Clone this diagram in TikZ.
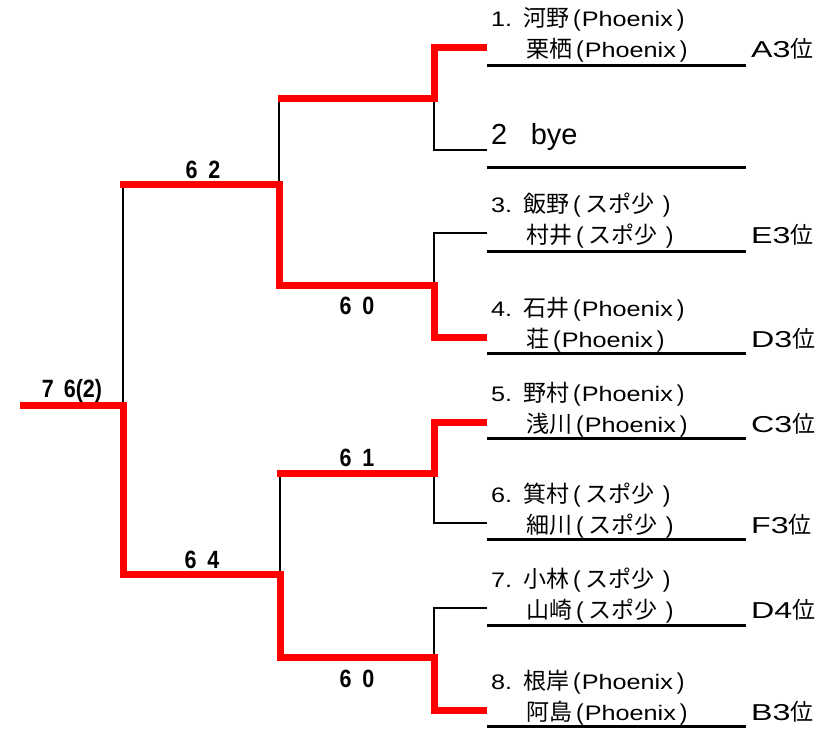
\documentclass[tikz,border=0pt]{standalone}
\usepackage{fontspec}
\setmainfont{Noto Sans CJK JP}
\newfontfamily\latf{Liberation Sans}
\newfontfamily\latw[FakeStretch=1.2]{Liberation Sans}
\newfontfamily\widef[FakeStretch=1.4]{Liberation Sans}
\newfontfamily\scoref[FakeStretch=0.86]{Liberation Sans}
\newcommand\lt{\latw\fontsize{21pt}{24pt}\selectfont}
\newcommand\lp{\latf\fontsize{23pt}{24pt}\selectfont}
\newcommand\PX{\hspace{4pt}{\lp(}\hspace{1pt}{\lt Phoenix}\hspace{4pt}{\lp)}}
\newcommand\SP{\hspace{4pt}{\lp(}\hspace{5pt}スポ少\hspace{8pt}{\lp)}}
\tikzset{
  nm/.style={anchor=base west, inner sep=0pt, font=\fontsize{23pt}{26pt}\selectfont},
  rk/.style={anchor=base west, inner sep=0pt, font=\fontsize{23pt}{26pt}\selectfont},
  sc/.style={anchor=base, inner sep=0pt, font=\scoref\bfseries\fontsize{25pt}{28pt}\selectfont},
  win/.style={draw=red, line width=7pt, line join=miter},
  lose/.style={draw=black, line width=2.5pt, line join=miter},
  ul/.style={draw=black, line width=3pt}
}
\begin{document}
\begin{tikzpicture}[x=1pt, y=-1pt]
\useasboundingbox[fill=white] (0,0) rectangle (832,728);
% entries
\foreach \i/\s/\u/\a/\b/\t/\r in {1/47/65/河野/栗栖/\PX/A3, 3/233/251/飯野/村井/\SP/E3, 4/337/353/石井/荘/\PX/D3, 5/422/438/野村/浅川/\PX/C3, 6/523/539/箕村/細川/\SP/F3, 7/608/625/小林/山崎/\SP/D4, 8/710/726/根岸/阿島/\PX/B3}{
  \coordinate (e\i) at (487,\s);
  \coordinate (ul\i) at (487,\u);
  \coordinate (ur\i) at (746,\u);
  \draw[ul] (ul\i) -- (ur\i);
  \node[nm] (n\i-1) at (491,\s-20.3) {{\lt\i.}\hspace{11pt}\a\t};
  \node[nm] (n\i-2) at (526,\s+10.2) {\b\t};
  \node[rk] (r\i) at (751,\s+10) {{\widef\r}位};
}
\coordinate (e2) at (487,150);
\coordinate (ul2) at (487,167);
\coordinate (ur2) at (746,167);
\draw[ul] (ul2) -- (ur2);
\node[anchor=base west, inner sep=0pt, font=\latf\fontsize{29pt}{32pt}\selectfont] (n2) at (491,144.4) {2\hspace{23.5pt}bye};
% junctions
\coordinate (a1) at (434,98);
\coordinate (a2) at (434,285);
\coordinate (a3) at (434,473);
\coordinate (a4) at (434,657);
\coordinate (b1) at (279,184);
\coordinate (b2) at (280,574);
\coordinate (f) at (123,405);
\coordinate (s0) at (20,405);
% losing lines
\draw[lose] (e2) -| (a1);
\draw[lose] (e3) -| (a2);
\draw[lose] (e6) -| (a3);
\draw[lose] (e7) -| (a4);
\draw[lose] (a1 -| b1) -- (b1);
\draw[lose] (a3 -| b2) -- (b2);
\draw[lose] (b1 -| f) -- (f);
% winning lines
\draw[win] (e1) -| (a1) -- (a1 -| b1) -- ++(-1.5,0);
\draw[win] (e4) -| (a2) -- (a2 -| b1) -- (b1) -- (b1 -| f) -- ++(-3.5,0);
\draw[win] (e5) -| (a3) -- (a3 -| b2) -- ++(-3.5,0);
\draw[win] (s0) -- (f) -- (f |- b2) -- (b2) -- (b2 |- a4) -- (a4) -- (a4 |- e8) -- (e8);
% scores
\node[sc] (s62) at (203,178) {6\hspace{11pt}2};
\node[sc] (s60a) at (357,314) {6\hspace{11pt}0};
\node[sc] (s61) at (357,466) {6\hspace{11pt}1};
\node[sc] (s64) at (202,568) {6\hspace{11pt}4};
\node[sc] (s60b) at (357,687) {6\hspace{11pt}0};
\node[sc] (s76) at (72,397) {7\hspace{10pt}6(2)};
\end{tikzpicture}
\end{document}
